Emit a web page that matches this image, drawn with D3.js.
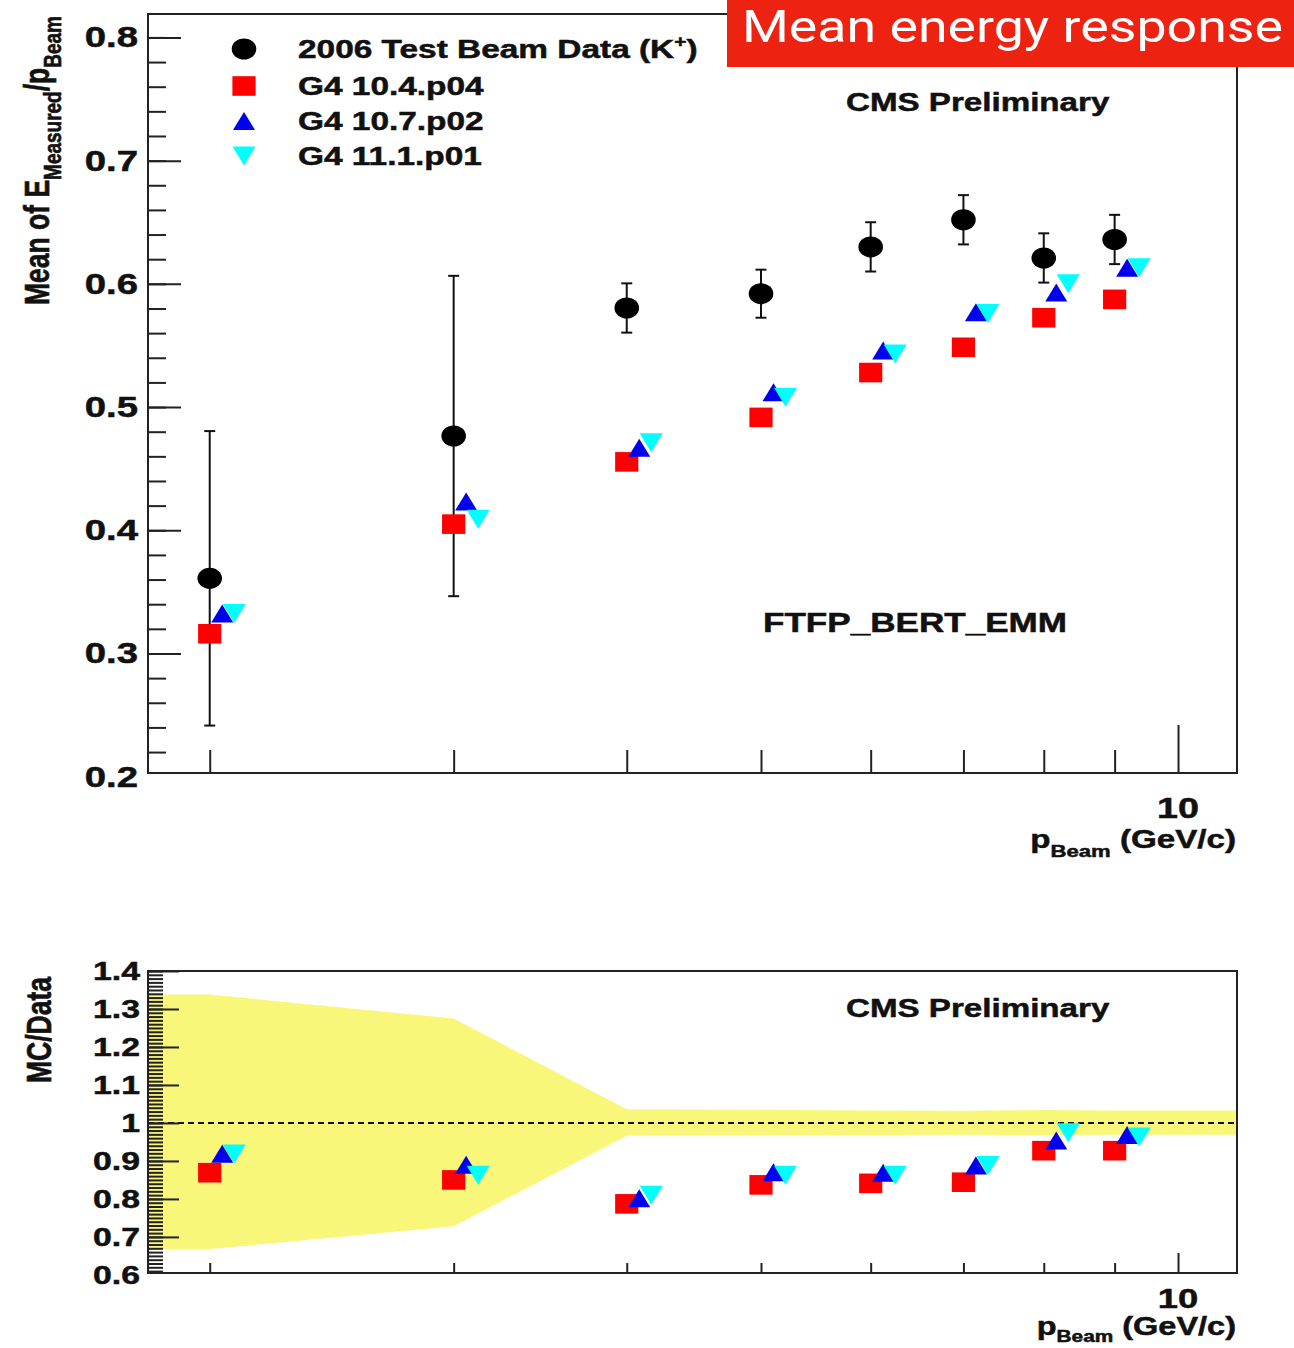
<!DOCTYPE html>
<html><head><meta charset="utf-8">
<script src="https://cdn.jsdelivr.net/npm/d3@7"></script>
<style>body{margin:0;background:#fff}svg{display:block}</style>
</head><body>
<script>
// ---------------- DATA ----------------
const momenta   = [2, 3, 4, 5, 6, 7, 8, 9];            // p_Beam (GeV/c)
const seriesNames = ["2006 Test Beam Data (K", "G4 10.4.p04", "G4 10.7.p02", "G4 11.1.p01"];
const dataMean  = [0.361, 0.4765, 0.5804, 0.592, 0.630, 0.652, 0.621, 0.636];
const dataErr   = [0.1195, 0.130, 0.020, 0.0195, 0.020, 0.020, 0.020, 0.020];
const g4_104    = [0.316, 0.405, 0.4555, 0.4916, 0.528, 0.5485, 0.5725, 0.5874];
const g4_107    = [0.3325, 0.4234, 0.467, 0.512, 0.546, 0.577, 0.593, 0.613];
const g4_111    = [0.3325, 0.409, 0.471, 0.508, 0.543, 0.576, 0.600, 0.613];
const ratio_104 = [0.869, 0.850, 0.787, 0.837, 0.841, 0.844, 0.927, 0.927];
const ratio_107 = [0.919, 0.890, 0.802, 0.870, 0.869, 0.888, 0.954, 0.968];
const ratio_111 = [0.918, 0.862, 0.810, 0.862, 0.862, 0.888, 0.974, 0.963];
const bandUpper = [1.338, 1.275, 1.036, 1.035, 1.033, 1.032, 1.034, 1.033];
const bandLower = [0.668, 0.728, 0.966, 0.967, 0.968, 0.969, 0.968, 0.969];
const topYTickLabels = [0.2, 0.3, 0.4, 0.5, 0.6, 0.7, 0.8];
const botYTickLabels = [0.6, 0.7, 0.8, 0.9, 1.0, 1.1, 1.2, 1.3, 1.4];
const xMajorTicks = [10];
const titleText = "Mean energy response";

// ---------------- SETUP ----------------
const W = 1294, H = 1348, SX = 1.3;
const FONT = "'Liberation Sans', Arial, Helvetica, sans-serif";
const svg = d3.select("body").append("svg").attr("width", W).attr("height", H)
  .style("font-family", FONT).style("font-weight", "bold");

const L = 148, R = 1237;
const x = d3.scaleLog().domain([1.805, 11.03]).range([L, R]);
const topT = 14, topB = 773, botT = 971, botB = 1273;
const yTop = d3.scaleLinear().domain([0.203, 0.819]).range([topB, topT]);
const yBot = d3.scaleLinear().domain([0.605, 1.4]).range([botB, botT]);

const COLORS = {data: "#000", s104: "#ff0000", s107: "#0000ee", s111: "#00ffff"};
const DX = [0, 0, 12.5, 24.5];

function stext(parent, tx, ty, anchor, size, parts, rot) {
  const g = parent.append("g").attr("transform", `translate(${tx},${ty}) scale(${SX},1)` + (rot ? " rotate(-90)" : ""));
  const t = g.append("text").attr("text-anchor", anchor).attr("font-size", size)
    .attr("fill", "#111").attr("stroke", "#111").attr("stroke-width", 0.5);
  parts.forEach(p => {
    const ts = t.append("tspan").text(p.t);
    if (p.s) ts.attr("font-size", p.s);
    if (p.dy) ts.attr("dy", p.dy);
  });
  return t;
}

function marker(parent, type, cx, cy) {
  if (type === 0) {
    parent.append("ellipse").attr("cx", cx).attr("cy", cy).attr("rx", 12.3).attr("ry", 10.5).attr("fill", COLORS.data);
  } else if (type === 1) {
    parent.append("rect").attr("x", cx - 11.6).attr("y", cy - 9.8).attr("width", 23.2).attr("height", 19.6).attr("fill", COLORS.s104);
  } else if (type === 2) {
    const w = 11, h = 9;
    parent.append("path").attr("d", `M${cx - w},${cy + h}L${cx + w},${cy + h}L${cx},${cy - h}Z`).attr("fill", COLORS.s107);
  } else {
    const w = 11.5, h = 9.5;
    parent.append("path").attr("d", `M${cx - w},${cy - h}L${cx + w},${cy - h}L${cx},${cy + h}Z`).attr("fill", COLORS.s111);
  }
}

function frameAndTicks(yScale, T, B, majorY, minorStep, majLen, minLen, xMinLen, xMajLen) {
  const g = svg.append("g");
  const [d0, d1] = yScale.domain();
  const minors = d3.range(Math.ceil(d0 / minorStep - 1e-6), Math.floor(d1 / minorStep + 1e-6) + 1).map(i => +(i * minorStep).toFixed(4));
  g.append("g").attr("transform", `translate(${L},0)`)
    .call(d3.axisLeft(yScale).tickValues(minors.filter(v => v >= d0 && v <= d1)).tickSize(-minLen).tickFormat(""))
    .call(s => s.select(".domain").remove())
    .selectAll("line").attr("stroke", "#222").attr("stroke-width", 2);
  g.append("g").attr("transform", `translate(${L},0)`)
    .call(d3.axisLeft(yScale).tickValues(majorY.filter(v => v >= d0 && v <= d1)).tickSize(-majLen).tickFormat(""))
    .call(s => s.select(".domain").remove())
    .selectAll("line").attr("stroke", "#222").attr("stroke-width", 2);
  g.append("g").attr("transform", `translate(0,${B})`)
    .call(d3.axisBottom(x).tickValues(momenta).tickSize(-xMinLen).tickFormat(""))
    .call(s => s.select(".domain").remove())
    .selectAll("line").attr("stroke", "#222").attr("stroke-width", 2);
  g.append("g").attr("transform", `translate(0,${B})`)
    .call(d3.axisBottom(x).tickValues(xMajorTicks).tickSize(-xMajLen).tickFormat(""))
    .call(s => s.select(".domain").remove())
    .selectAll("line").attr("stroke", "#222").attr("stroke-width", 2);
  svg.append("rect").attr("x", L).attr("y", T).attr("width", R - L).attr("height", B - T)
    .attr("fill", "none").attr("stroke", "#222").attr("stroke-width", 2);
}

// ---------------- TOP PANEL ----------------
frameAndTicks(yTop, topT, topB, topYTickLabels, 0.02, 33, 18, 23, 48);

topYTickLabels.forEach(v => {
  if (yTop(v) <= topB + 6) stext(svg, 138, yTop(v) + 10, "end", 29.5, [{t: v.toFixed(1)}]);
});

const eb = svg.append("g").attr("stroke", "#111").attr("stroke-width", 2);
momenta.forEach((p, i) => {
  const cx = x(p), y1 = yTop(dataMean[i] + dataErr[i]), y2 = yTop(dataMean[i] - dataErr[i]);
  eb.append("line").attr("x1", cx).attr("x2", cx).attr("y1", y1).attr("y2", y2);
  eb.append("line").attr("x1", cx - 5.5).attr("x2", cx + 5.5).attr("y1", y1).attr("y2", y1);
  eb.append("line").attr("x1", cx - 5.5).attr("x2", cx + 5.5).attr("y1", y2).attr("y2", y2);
});
const topSeries = [dataMean, g4_104, g4_107, g4_111];
const mk = svg.append("g");
[1, 2, 3, 0].forEach(k => {
  momenta.forEach((p, i) => marker(mk, k, x(p) + DX[k], yTop(topSeries[k][i])));
});

const legY = [49, 86, 121, 156];
seriesNames.forEach((name, k) => {
  marker(svg, k, 244, legY[k]);
  const parts = [{t: name}];
  if (k === 0) { parts.push({t: "+", s: 16, dy: -11}); parts.push({t: ")", dy: 11}); }
  stext(svg, 298, legY[k] + 9, "start", 25.7, parts);
});

stext(svg, 846, 111, "start", 25.5, [{t: "CMS Preliminary"}]);
stext(svg, 763, 632, "start", 27, [{t: "FTFP_BERT_EMM"}]);
xMajorTicks.forEach(v => stext(svg, x(v), 818, "middle", 29, [{t: String(v)}]));
stext(svg, 1236, 848, "end", 25.5, [{t: "p"}, {t: "Beam", s: 17, dy: 9}, {t: " (GeV/c)", dy: -9}]);
stext(svg, 49, 305, "start", 26.5, [{t: "Mean of E"}, {t: "Measured", s: 19, dy: 9}, {t: "/p", dy: -9}, {t: "Beam", s: 19, dy: 9}], true);

// ---------------- BOTTOM PANEL ----------------
const bandPts = momenta.map((p, i) => ({px: x(p), u: bandUpper[i], l: bandLower[i]}));
const ext = [{px: L, u: bandUpper[0], l: bandLower[0]}, ...bandPts, {px: R, u: bandUpper[bandUpper.length - 1], l: bandLower[bandLower.length - 1]}];
svg.append("path")
  .attr("d", d3.area().x(d => d.px).y0(d => yBot(d.l)).y1(d => yBot(d.u))(ext))
  .attr("fill", "#f9f77a");

svg.append("line").attr("x1", L).attr("x2", R).attr("y1", yBot(1)).attr("y2", yBot(1))
  .attr("stroke", "#111").attr("stroke-width", 2).attr("stroke-dasharray", "6,4");

frameAndTicks(yBot, botT, botB, botYTickLabels, 0.01, 31, 15, 10, 20);

botYTickLabels.forEach(v => {
  stext(svg, 140, yBot(v) + 9, "end", 26, [{t: v === 1 ? "1" : v.toFixed(1)}]);
});

const botSeries = [null, ratio_104, ratio_107, ratio_111];
const mk2 = svg.append("g");
[1, 2, 3].forEach(k => {
  momenta.forEach((p, i) => marker(mk2, k, x(p) + DX[k], yBot(botSeries[k][i])));
});

stext(svg, 846, 1017, "start", 25.5, [{t: "CMS Preliminary"}]);
xMajorTicks.forEach(v => stext(svg, x(v), 1308, "middle", 28, [{t: String(v)}]));
stext(svg, 1236, 1335, "end", 25, [{t: "p"}, {t: "Beam", s: 16, dy: 7}, {t: " (GeV/c)", dy: -7}]);
stext(svg, 51, 1083, "start", 26.5, [{t: "MC/Data"}], true);

// ---------------- TITLE BOX ----------------
svg.append("rect").attr("x", 727).attr("y", 0).attr("width", W - 727).attr("height", 67).attr("fill", "#ee2211");
svg.append("text").attr("x", 742).attr("y", 42).attr("fill", "#fff")
  .attr("font-family", "Roboto, 'Open Sans', 'Liberation Sans', sans-serif").attr("font-weight", "normal")
  .attr("font-size", 44).attr("textLength", 541).attr("lengthAdjust", "spacingAndGlyphs")
  .text(titleText);
</script>
</body></html>
